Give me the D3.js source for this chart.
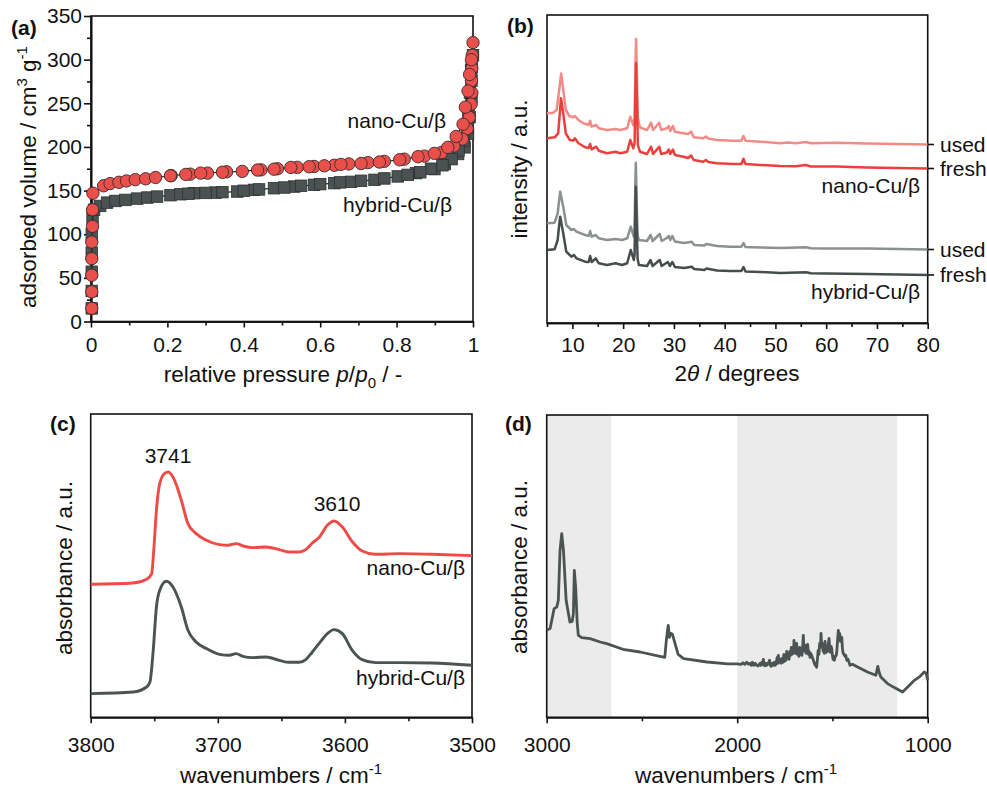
<!DOCTYPE html>
<html><head><meta charset="utf-8">
<script src="https://cdn.jsdelivr.net/npm/d3@7"></script>
<style>body{margin:0;background:#fff}svg{display:block}text{font-family:'Liberation Sans',Arial,Helvetica,sans-serif;fill:#111}</style>
</head><body><svg id="c" width="987" height="787"></svg>
<script>
// ---------- (a) N2 isotherms ----------
const isoXTicks = [0, 0.2, 0.4, 0.6, 0.8, 1];
const isoXMinor = [0.1, 0.3, 0.5, 0.7, 0.9];
const isoYTicks = [0, 50, 100, 150, 200, 250, 300, 350];
const isoYMinor = [25, 75, 125, 175, 225, 275, 325];
const hybridAds = [[0.002,15],[0.002,35],[0.002,57],[0.002,79],[0.002,100],[0.004,119],[0.008,128],[0.024,132.4],[0.042,136.2],[0.064,138.1],[0.09,139.3],[0.121,140.8],[0.147,142],[0.173,143.1],[0.208,144.7],[0.234,145.8],[0.269,147],[0.326,147.7],[0.383,148.9],[0.427,150.8],[0.479,152.7],[0.532,154.6],[0.584,156.6],[0.637,158.5],[0.681,160],[0.742,162.3],[0.803,166.2],[0.851,170],[0.899,174.6],[0.926,180.4],[0.961,191.9],[0.978,199.5],[0.987,214.9],[0.991,234],[0.996,257],[0.996,276],[0.997,291.6],[1.0,305]];
const hybridDes = [[0.995,288],[0.992,262],[0.988,240],[0.985,222],[0.976,207],[0.962,196],[0.944,186],[0.92,179],[0.89,175],[0.862,171],[0.829,168],[0.768,163.9],[0.707,161.2],[0.652,159.4],[0.6,157.4],[0.55,155.5],[0.506,153.5],[0.44,151.3],[0.4,149.8],[0.344,148.2],[0.3,147.3],[0.255,146.4]];
const nanoAds = [[0.002,15],[0.002,34],[0.002,53],[0.002,72],[0.002,91],[0.004,109],[0.004,128],[0.005,147],[0.033,155.5],[0.05,158],[0.073,159.5],[0.093,161],[0.116,162.5],[0.143,163.5],[0.169,165],[0.208,167],[0.248,168.5],[0.287,170],[0.344,171],[0.396,172],[0.436,173.5],[0.479,174.5],[0.523,176.5],[0.571,177.3],[0.611,178.4],[0.654,180],[0.707,181],[0.755,182.7],[0.808,185.3],[0.856,188.8],[0.899,192.6],[0.934,199.5],[0.956,212],[0.974,226],[0.98,245.6],[0.987,264],[0.991,283],[0.996,300],[1.0,319.6]];
const nanoDes = [[0.998,305],[0.997,290],[0.996,276],[0.997,262],[0.995,249],[0.99,234],[0.985,221],[0.972,209],[0.95,201],[0.917,193.5],[0.873,189.5],[0.82,186],[0.768,183.5],[0.725,182],[0.675,180.5],[0.637,179],[0.584,177.6],[0.54,176.6],[0.488,175],[0.445,173.7],[0.355,171.5],[0.305,170],[0.26,168.8],[0.21,167.2]];

// ---------- (b) XRD patterns (2theta, intensity a.u.) ----------
const xrdXTicks = [10, 20, 30, 40, 50, 60, 70, 80];
const xrdXMinor = [5, 15, 25, 35, 45, 55, 65, 75];
const xrdNanoUsed = [[5,209.7],[6.2,210.3],[6.9,213],[7.4,233],[7.8,249.5],[8.2,233],[8.7,213],[9.4,207],[10.2,205.7],[10.5,207],[11.2,203],[12.2,199.7],[13.2,198],[13.5,202.3],[13.8,196.3],[14.7,198],[15.2,194.7],[16.8,193],[18.5,194],[19.4,193],[20.8,194.7],[21.4,206.3],[22.0,198],[22.25,205],[22.45,262],[22.55,284],[22.7,250],[22.9,205],[23.3,195.7],[24.7,193],[25.5,200.3],[25.9,193],[27.1,200.3],[27.5,193],[28.6,194.7],[29.0,197],[29.3,192],[29.8,197],[30.2,191.3],[31.9,189.7],[32.8,189],[33.4,191.5],[33.9,185.7],[35.8,184.7],[36.3,186.5],[36.8,184.5],[38.5,183],[41.7,182.3],[43.3,182.2],[43.7,187],[44.1,182.3],[47,181.3],[50.9,179.7],[52.5,180.5],[54,179.8],[56,181],[57,179.8],[62,180.2],[68,179.6],[74,179],[80,178.5]];
const xrdNanoFresh = [[5,184.7],[6.5,185.7],[7.2,189.7],[7.5,208],[7.75,224.7],[8.2,209.7],[8.7,189.7],[9.5,183],[10.2,182.5],[10.5,184.7],[11.2,179.7],[12.5,175.7],[13.2,175],[13.5,179],[13.8,173.7],[14.7,176.3],[15.2,172.3],[16.8,169.7],[18.5,171.3],[19.4,169.7],[20.8,171.3],[21.4,183],[22.0,174.7],[22.25,180],[22.45,240],[22.55,260],[22.7,225],[22.9,178],[23.3,171.3],[24.7,169],[25.5,176.3],[25.9,169],[27.1,176.3],[27.5,169],[28.6,170.5],[29.0,173.5],[29.3,169],[29.8,173.5],[30.2,168],[31.9,166.3],[32.8,165],[33.4,167.5],[33.9,163],[35.8,161.3],[36.3,163],[36.8,161],[38.5,159.7],[41.7,159],[43.3,159],[43.7,164.3],[44.1,159],[47,158],[50.9,157],[54,156.8],[56,158],[57,156.5],[62,156.5],[68,155.5],[74,155],[80,154.5]];
const xrdHybridUsed = [[5,99.7],[6.5,100.3],[7.1,109.7],[7.4,123],[7.6,131.3],[8.2,116.3],[8.8,98],[9.8,93],[10.3,94],[10.8,91.3],[12.5,88],[13.2,87],[13.5,92],[13.8,86.3],[14.6,88],[15.2,84.7],[16.8,83],[18.5,84],[19.8,83],[20.8,84.7],[21.5,96.3],[22.1,86.3],[22.25,90],[22.4,140],[22.5,160.3],[22.65,125],[22.85,88],[23.1,83],[24.7,82],[25.4,88],[25.8,82],[27.2,89],[27.6,82],[28.6,85],[29.0,87],[29.3,83],[29.7,87],[30.2,81.5],[32,80],[33.5,81.3],[34,78],[36,77.5],[36.4,79],[38.5,77],[41.1,76.3],[43.3,76.3],[43.7,80],[44.1,76],[47,75.5],[51,75],[56,75.8],[57,74.8],[60,74.5],[68,74.5],[74,74],[80,73.5]];
const xrdHybridFresh = [[5,73],[6.5,73.7],[7.1,83],[7.4,98],[7.6,106.3],[8.2,89.7],[8.8,71.3],[9.8,66.3],[10.3,68],[10.8,64.7],[12.5,61.3],[13.2,61],[13.5,67],[13.8,61],[14.6,64.7],[15.2,59.7],[16.8,58],[18.5,59.7],[19.8,58],[20.8,59.7],[21.5,73],[22.1,63],[22.25,68],[22.4,115],[22.5,136.3],[22.65,100],[22.85,64],[23.1,58],[24.7,57],[25.4,63],[25.8,57],[27.2,63],[27.6,57],[28.8,61],[29.2,57],[29.7,61],[30.2,56],[32,55],[33.5,56.3],[34,54],[36,53],[36.4,54.5],[38.5,52.5],[41.1,52],[43.3,52],[43.7,56],[44.1,51.5],[47,51],[51,50],[56,50.8],[57,49.8],[60,49.5],[68,49],[74,48.5],[80,48]];

// ---------- (c) IR OH region ----------
const irOHTicks = [3800, 3700, 3600, 3500];
const irOHMinor = [3750, 3650, 3550];
const irNano = [[3800,133],[3766.6,134.3],[3756,138],[3752,143.7],[3750.4,167],[3748.3,207],[3745.7,233.7],[3741.8,244],[3739,245.3],[3734,237],[3728.7,217],[3723.5,193.7],[3717,183.7],[3709,177],[3698.7,172.7],[3692,172],[3685.6,173.7],[3680,171.3],[3672.6,169.7],[3662,170.3],[3651.7,167.7],[3644,165.3],[3636,165.3],[3630.8,167.7],[3625.6,174.3],[3620,180.3],[3613.8,192],[3608.6,196.3],[3602,190.3],[3594,175.3],[3586.4,166.3],[3576,163],[3557.7,163.7],[3531.6,163],[3500,161.7]];
const irHybrid = [[3800,23.7],[3766.6,25.3],[3756,30.3],[3753.4,35.3],[3750.8,67],[3748.3,110.3],[3745.7,127],[3740.5,136],[3735.3,130.3],[3728.7,110.3],[3723.5,87],[3717,75.3],[3709,68.7],[3698.7,63],[3690.9,62],[3685.6,63.7],[3680.4,61],[3672.6,59.7],[3662.1,60.3],[3651.7,57],[3643.9,55],[3636,55],[3630.8,57.7],[3625.6,65.3],[3620.4,73.7],[3613.8,83.7],[3608.6,87.7],[3602,83.7],[3594.2,67],[3586.4,57.7],[3576,54.7],[3557.7,54.7],[3531.6,54.3],[3500,52]];

// ---------- (d) IR full range ----------
const irFullTicks = [3000, 2000, 1000];
const irFullMinor = [2500, 1500];
const irBands = [[3000, 2660], [2000, 1160]];
const irFull = [[3000,87],[2982,88.7],[2961,108.7],[2947,110.3],[2939,117],[2930,167],[2921,183.7],[2912,167],[2898,117],[2878,95.3],[2866,96],[2860,103.7],[2855,147],[2848,130.3],[2840,95],[2834,82],[2816,79.7],[2773,78.7],[2719,75.3],[2685,73.7],[2600,68],[2510,65.3],[2405,61],[2380,60],[2372,77],[2362,92],[2356,80],[2350,84],[2340,83],[2328,75],[2310,63],[2281,58.7],[2158,55.3],[2050,53.5],[2000,53.5],[1980,53],[1970,54.5],[1960,53],[1950,55],[1940,53],[1930,54],[1925,52],[1920,55],[1912,52],[1905,54],[1898,52],[1890,51.5],[1880,54],[1875,52],[1870,55],[1866,53],[1863,58],[1859,52],[1856,51.5],[1850,54],[1845,52],[1840,53],[1835,55],[1830,57],[1826,52],[1822,51],[1815,54],[1810,52],[1805,55],[1800,52],[1795,55],[1790,60],[1787,54],[1784,62],[1780,55],[1775,58],[1770,54],[1765,59],[1760,55],[1755,63],[1751,56],[1748,60],[1744,57],[1740,66],[1736,59],[1733,62],[1728,58],[1724,66],[1720,62],[1716,70],[1712,63],[1708,68],[1704,64],[1702,77],[1699,66],[1696,72],[1692,64],[1688,74],[1684,63],[1680,66],[1676,61],[1672,70],[1668,63],[1664,68],[1660,62],[1656,72],[1653,82],[1650,70],[1646,66],[1642,72],[1638,64],[1634,70],[1630,73],[1626,63],[1622,66],[1618,60],[1614,64],[1609,62],[1604,59],[1600,57],[1595,54],[1590,52],[1586,54],[1583,50],[1579,58],[1575,67],[1571,63],[1567,74],[1563,70],[1560,84],[1557,72],[1553,74],[1549,66],[1545,70],[1542,64],[1539,76],[1535,68],[1532,65],[1528,72],[1525,66],[1521,74],[1518,79],[1514,68],[1511,65],[1507,71],[1504,69],[1500,62],[1497,58],[1493,60],[1490,57],[1485,61],[1480,62],[1477,66],[1475,72],[1472,80],[1469,87],[1465,79],[1462,84],[1458,76],[1455,77],[1451,80],[1448,70],[1445,65],[1440,63],[1434,61],[1430,62],[1425,57],[1418,58],[1408,52],[1395,53],[1368,50.3],[1316,45.3],[1272,42],[1262,51],[1255,45],[1246,40.3],[1211,33.7],[1175,29.7],[1132,25.3],[1105,30.3],[1070,37],[1040,41],[1018,45.3],[1008,44],[1000,37]];

// ---------- drawing ----------
const svg = d3.select("#c");
const TICKFS = 21, TITLEFS = 22.5, LABFS = 21;

function box(x0, y0, x1, y1) {
  svg.append("rect").attr("x", x0).attr("y", y0).attr("width", x1 - x0).attr("height", y1 - y0)
    .attr("fill", "none").attr("stroke", "#111").attr("stroke-width", 1.6);
}
function bottomAxis(scale, y, majors, minors, pad, fmt) {
  const g = svg.append("g").attr("transform", `translate(0,${y})`);
  g.call(d3.axisBottom(scale).tickValues(majors).tickSize(6).tickSizeOuter(0).tickPadding(pad).tickFormat(fmt || (d => String(d))));
  const m = svg.append("g").attr("transform", `translate(0,${y})`);
  m.call(d3.axisBottom(scale).tickValues(minors).tickSize(4).tickSizeOuter(0).tickFormat(""));
  [g, m].forEach(a => { a.select(".domain").attr("stroke", "#111").attr("stroke-width", 1.6); a.selectAll("line").attr("stroke", "#111").attr("stroke-width", 1.6); });
  g.selectAll("text").attr("font-size", TICKFS).attr("fill", "#111").attr("font-family", "'Liberation Sans',Arial,sans-serif");
}
function leftAxis(scale, x, majors, minors) {
  const g = svg.append("g").attr("transform", `translate(${x},0)`);
  g.call(d3.axisLeft(scale).tickValues(majors).tickSize(7).tickSizeOuter(0).tickPadding(2));
  const m = svg.append("g").attr("transform", `translate(${x},0)`);
  m.call(d3.axisLeft(scale).tickValues(minors).tickSize(4).tickSizeOuter(0).tickFormat(""));
  [g, m].forEach(a => { a.select(".domain").attr("stroke", "#111").attr("stroke-width", 1.6); a.selectAll("line").attr("stroke", "#111").attr("stroke-width", 1.6); });
  g.selectAll("text").attr("font-size", TICKFS).attr("fill", "#111").attr("font-family", "'Liberation Sans',Arial,sans-serif");
}
function text(x, y, s, opts = {}) {
  const t = svg.append("text").attr("x", x).attr("y", y).attr("font-size", opts.fs || LABFS)
    .attr("text-anchor", opts.anchor || "start").text(s);
  if (opts.bold) t.attr("font-weight", "bold");
  return t;
}
function vtitle(cx, cy, parts) {
  const t = svg.append("text").attr("transform", `translate(${cx},${cy}) rotate(-90)`)
    .attr("text-anchor", "middle").attr("font-size", TITLEFS);
  parts.forEach(p => addPart(t, p));
  return t;
}
function htitle(cx, y, parts) {
  const t = svg.append("text").attr("x", cx).attr("y", y).attr("text-anchor", "middle").attr("font-size", TITLEFS);
  parts.forEach(p => addPart(t, p));
  return t;
}
function addPart(t, p) {
  if (typeof p === "string") { t.append("tspan").text(p); return; }
  const s = t.append("tspan").text(p.t);
  if (p.italic) s.attr("font-style", "italic");
  if (p.sup) { s.attr("font-size", 15).attr("dy", -9); }
  if (p.sub) { s.attr("font-size", 15).attr("dy", 6); }
  if (p.back) { s.attr("dy", p.back); }
}

// ===== Panel (a) =====
const ax = d3.scaleLinear().domain([0, 1]).range([91, 473]);
const ay = d3.scaleLinear().domain([0, 350]).range([321.5, 16]);
box(91, 16, 473, 321.5);
bottomAxis(ax, 321.5, isoXTicks, isoXMinor, 10);
leftAxis(ay, 91, isoYTicks, isoYMinor);
const lineA = d3.line().x(d => ax(d[0])).y(d => ay(d[1]));
svg.append("path").datum(hybridAds).attr("d", lineA).attr("fill", "none").attr("stroke", "#222").attr("stroke-width", 1.2);
const sq = 11.5;
svg.append("g").selectAll("rect").data(hybridAds.concat(hybridDes)).join("rect")
  .attr("x", d => ax(d[0]) - sq / 2).attr("y", d => ay(d[1]) - sq / 2).attr("width", sq).attr("height", sq)
  .attr("fill", "#4a5352").attr("stroke", "#2c3232").attr("stroke-width", 0.8);
svg.append("path").datum(nanoAds).attr("d", lineA).attr("fill", "none").attr("stroke", "#222").attr("stroke-width", 1.2);
svg.append("g").selectAll("circle").data(nanoDes.concat(nanoAds)).join("circle")
  .attr("cx", d => ax(d[0])).attr("cy", d => ay(d[1])).attr("r", 6.2)
  .attr("fill", "#e9504c").attr("stroke", "#3a2a2a").attr("stroke-width", 0.9);
text(446, 128, "nano-Cu/β", { anchor: "end" });
text(452, 212, "hybrid-Cu/β", { anchor: "end" });
text(11, 35, "(a)", { bold: true });
vtitle(36, 177, ["adsorbed volume / cm", { t: "3", sup: true }, { t: " g", back: 9 }, { t: "-1", sup: true }]);
htitle(283, 382, ["relative pressure ", { t: "p", italic: true }, "/", { t: "p", italic: true }, { t: "0", sub: true }, { t: " / -", back: -6 }]);

// ===== Panel (b) =====
const bx = d3.scaleLinear().domain([5, 80]).range([547, 927.7]);
const by = d3.scaleLinear().domain([0, 308]).range([323, 15]);
box(547, 15, 927.7, 323);
bottomAxis(bx, 323, xrdXTicks, xrdXMinor, 8);
const lineB = d3.line().x(d => bx(d[0])).y(d => by(d[1]));
const xrdSeries = [
  { d: xrdNanoUsed, c: "#f28b86", lab: "used" },
  { d: xrdNanoFresh, c: "#e8403d", lab: "fresh" },
  { d: xrdHybridUsed, c: "#8b9090", lab: "used" },
  { d: xrdHybridFresh, c: "#454d4d", lab: "fresh" }
];
xrdSeries.forEach(s => {
  svg.append("path").datum(s.d).attr("d", lineB).attr("fill", "none").attr("stroke", s.c)
    .attr("stroke-width", 2.5).attr("stroke-linejoin", "round");
  const yEnd = by(s.d[s.d.length - 1][1]);
  svg.append("line").attr("x1", 927.7).attr("x2", 934).attr("y1", yEnd).attr("y2", yEnd).attr("stroke", "#111").attr("stroke-width", 1.6);
  text(940, yEnd + 7, s.lab);
});
text(920, 193, "nano-Cu/β", { anchor: "end" });
text(920, 299, "hybrid-Cu/β", { anchor: "end" });
text(507, 33, "(b)", { bold: true });
vtitle(527, 169, ["intensity / a.u."]);
htitle(737, 381, ["2", { t: "θ", italic: true }, " / degrees"]);

// ===== Panel (c) =====
const cx = d3.scaleLinear().domain([3800, 3500]).range([90.7, 472]);
const cy = d3.scaleLinear().domain([0, 303.3]).range([717.3, 414]);
box(90.7, 414, 472, 717.3);
bottomAxis(cx, 717.3, irOHTicks, irOHMinor, 14);
const lineC = d3.line().curve(d3.curveMonotoneX).x(d => cx(d[0])).y(d => cy(d[1]));
svg.append("path").datum(irNano).attr("d", lineC).attr("fill", "none").attr("stroke", "#ee4a46").attr("stroke-width", 2.9);
svg.append("path").datum(irHybrid).attr("d", lineC).attr("fill", "none").attr("stroke", "#4b5353").attr("stroke-width", 2.9);
text(168, 463, "3741", { anchor: "middle" });
text(337, 511, "3610", { anchor: "middle" });
text(465, 575, "nano-Cu/β", { anchor: "end" });
text(465, 685, "hybrid-Cu/β", { anchor: "end" });
text(50, 431, "(c)", { bold: true });
vtitle(72, 568, ["absorbance / a.u."]);
htitle(281, 783, ["wavenumbers / cm", { t: "-1", sup: true }]);

// ===== Panel (d) =====
const dx = d3.scaleLinear().domain([3000, 1000]).range([546.7, 927.7]);
const dy = d3.scaleLinear().domain([0, 302.3]).range([717.3, 415]);
svg.append("g").selectAll("rect").data(irBands).join("rect")
  .attr("x", d => dx(d[0])).attr("width", d => dx(d[1]) - dx(d[0]))
  .attr("y", 415).attr("height", 717.3 - 415).attr("fill", "#ebebeb");
box(546.7, 415, 927.7, 717.3);
bottomAxis(dx, 717.3, irFullTicks, irFullMinor, 14);
const lineD = d3.line().x(d => dx(d[0])).y(d => dy(d[1]));
svg.append("path").datum(irFull).attr("d", lineD).attr("fill", "none").attr("stroke", "#4b5353")
  .attr("stroke-width", 2.8).attr("stroke-linejoin", "round");
text(505, 431, "(d)", { bold: true });
vtitle(527, 567, ["absorbance / a.u."]);
htitle(736, 783, ["wavenumbers / cm", { t: "-1", sup: true }]);
</script></body></html>
